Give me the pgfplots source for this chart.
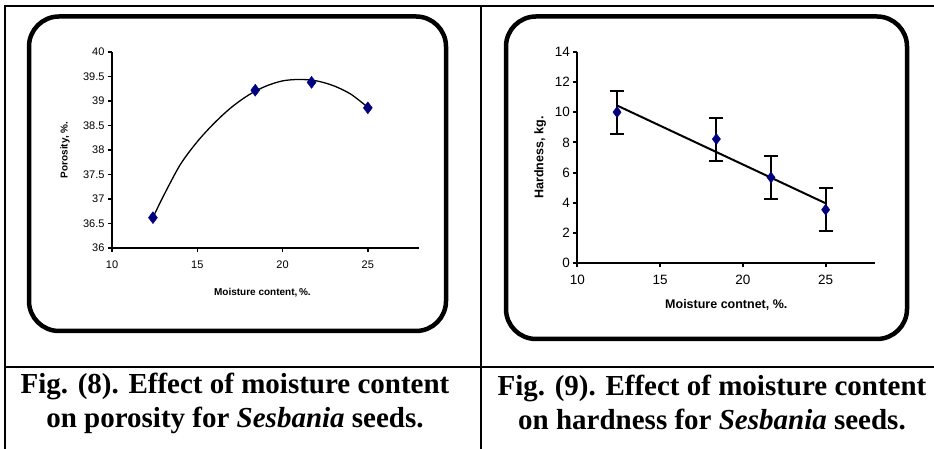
\documentclass[border=0pt]{standalone}
\usepackage{pgfplots}
\pgfplotsset{compat=1.18}
\usepackage{fontspec}
\setmainfont{Liberation Serif}
\newfontfamily\arial{Liberation Sans}
\definecolor{navy}{RGB}{0,0,128}
\begin{document}
\begin{tikzpicture}[x=1bp,y=1bp]
\path[use as bounding box] (0,0) rectangle (934,449);
% table lines
\draw[line width=2bp] (4,443)--(934,443);
\draw[line width=2bp] (5,443)--(5,0);
\draw[line width=2bp] (481,443)--(481,0);
\draw[line width=2bp] (5,82)--(934,82);
% rounded frames
\draw[line width=4.5bp, rounded corners=30bp] (29,118) rectangle (446,432.5);
\draw[line width=4.5bp, rounded corners=30bp] (506,110) rectangle (907,432.5);
% left chart
\begin{axis}[at={(112bp,201bp)}, anchor=south west, scale only axis,
  width=307bp, height=196bp, xmin=10, xmax=28, ymin=36, ymax=40,
  axis lines*=left, axis line style={line width=1.5bp},
  tick align=outside, major tick length=4bp,
  tick style={line width=1.5bp, black},
  xtick={10,15,20,25}, ytick={36,36.5,37,37.5,38,38.5,39,39.5,40},
  /pgf/number format/assume math mode=true,
  ticklabel style={font=\arial\fontsize{11bp}{13bp}\selectfont},
  xticklabel style={yshift=-5bp},
  xlabel={Moisture content,\,\%.}, ylabel={Porosity, \%.},
  label style={font=\arial\bfseries\fontsize{10bp}{12bp}\selectfont},
  xlabel style={at={(axis description cs:0.49,-0.23)}, anchor=center},
  ylabel style={at={(axis description cs:-0.153,0.5)}, anchor=center, rotate=0},
  clip=false]
\addplot[black, line width=1.3bp, smooth] coordinates {
(12.4,36.62) (13,37.05) (14,37.7) (15,38.17) (16,38.55) (17,38.87) (18,39.12)
(19,39.3) (20,39.41) (21,39.44) (22,39.41) (23,39.31) (24,39.14) (25,38.87)};
\addplot[only marks, mark=diamond*, mark size=6bp, mark options={fill=navy, draw=navy}] coordinates {
(12.4,36.62) (18.4,39.22) (21.7,39.38) (25,38.86)};
\end{axis}
% right chart
\begin{axis}[at={(577.3bp,185.7bp)}, anchor=south west, scale only axis,
  width=298bp, height=211.6bp, xmin=10, xmax=28, ymin=0, ymax=14,
  axis lines*=left, axis line style={line width=2bp},
  tick align=outside, major tick length=4bp,
  tick style={line width=2bp, black},
  xtick={10,15,20,25}, ytick={0,2,4,6,8,10,12,14},
  /pgf/number format/assume math mode=true,
  ticklabel style={font=\arial\fontsize{13.5bp}{15bp}\selectfont},
  xticklabel style={yshift=-4bp},
  xlabel={Moisture contnet, \%.}, ylabel={Hardness, kg.},
  label style={font=\arial\bfseries\fontsize{12.5bp}{14bp}\selectfont},
  xlabel style={at={(axis description cs:0.5,-0.195)}, anchor=center},
  ylabel style={at={(axis description cs:-0.125,0.5)}, anchor=center, rotate=0},
  clip=false]
\addplot[black, line width=2bp] coordinates {(12.4,10.44) (25,3.97)};
\addplot[only marks, mark=diamond*, mark size=5.5bp, mark options={fill=navy, draw=navy},
  error bars/.cd, y dir=both, y explicit,
  error bar style={line width=2bp, black},
  error mark options={rotate=90, mark size=7bp, line width=2bp, black}]
  coordinates {
(12.4,10.0) +- (0,1.42)
(18.4,8.22) +- (0,1.42)
(21.7,5.68) +- (0,1.42)
(25,3.55) +- (0,1.42)};
\end{axis}
% captions
\node[align=center, font=\bfseries\fontsize{29bp}{34bp}\selectfont] at (235,46)
 {Fig. (8). Effect of moisture content\\on porosity for \textit{Sesbania} seeds.};
\node[align=center, font=\bfseries\fontsize{29bp}{34bp}\selectfont] at (712,46)
 {Fig. (9). Effect of moisture content\\on hardness for \textit{Sesbania} seeds.};
\end{tikzpicture}
\end{document}
